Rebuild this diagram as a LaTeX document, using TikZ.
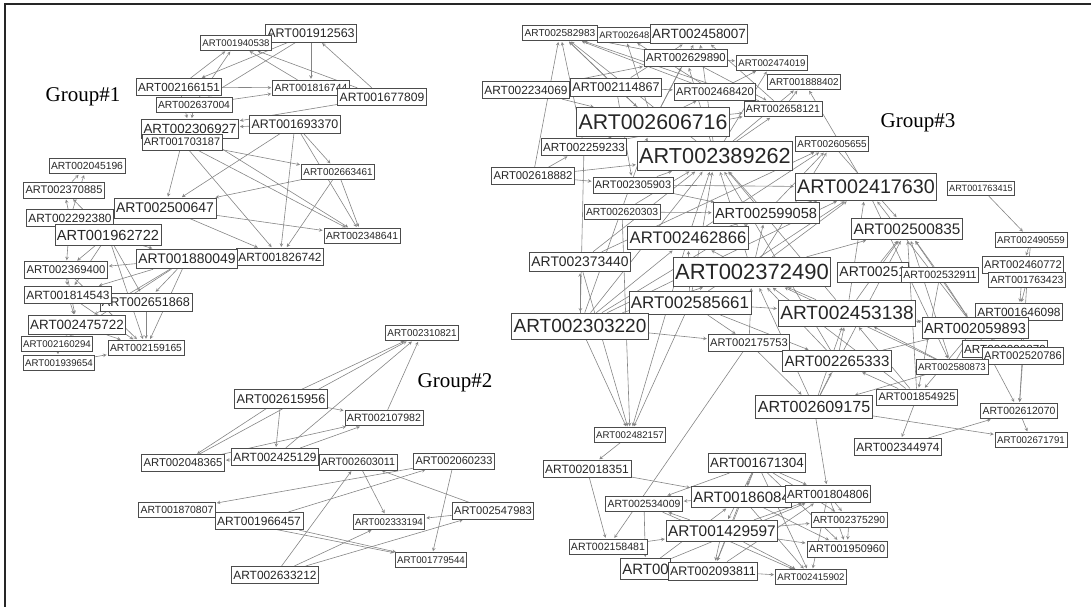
\documentclass[tikz,border=0pt]{standalone}
\usepackage{fontspec}
\newfontfamily\artfont{Liberation Sans}
\newfontfamily\grpfont{Liberation Serif}
\usetikzlibrary{arrows}
\pgfdeclarelayer{edges}
\pgfsetlayers{edges,main}
\tikzset{
  art/.style={draw=black!70, line width=0.8pt, fill=white, text=black!85,
    inner xsep=2pt, inner ysep=0pt, minimum height={1.2*#1pt+3pt},
    font=\artfont\fontsize{#1}{#1}\selectfont},
  link/.style={draw=black!48, line width=0.6pt, ->, >=stealth, shorten >=1pt},
  grp/.style={font=\grpfont\fontsize{21}{21}\selectfont}
}

\begin{document}
\begin{tikzpicture}[x=1pt,y=-1pt]
\useasboundingbox (0,0) rectangle (1091,607);
\draw[line width=1.5pt, black!85] (5,607) -- (5,4) -- (1091,4);

% group 1
\node[grp] (g1) at (83,97) {Group\#1};
\node[art=12.5] (n001912563) at (311,33) {ART001912563};
\node[art=9.6] (n001940538) at (236,43) {ART001940538};
\node[art=11.7] (n002166151) at (179,87) {ART002166151};
\node[art=10.4] (n001816744) at (311,88) {ART001816744};
\node[art=12.1] (n001677809) at (382,97) {ART001677809};
\node[art=10.3] (n002637004) at (194,105) {ART002637004};
\node[art=13.3] (n002306927) at (190,129) {ART002306927};
\node[art=10.9] (n001703187) at (182,142) {ART001703187};
\node[art=12.4] (n001693370) at (295,124) {ART001693370};
\node[art=9.9] (n002663461) at (338,172) {ART002663461};
\node[art=10.3] (n002045196) at (87,166) {ART002045196};
\node[art=11] (n002370885) at (64,190) {ART002370885};
\node[art=11.9] (n002292380) at (70,218) {ART002292380};
\node[art=14] (n002500647) at (165,208) {ART002500647};
\node[art=14.6] (n001962722) at (108,235) {ART001962722};
\node[art=10.3] (n002348641) at (362,236) {ART002348641};
\node[art=11.9] (n001826742) at (280,257) {ART001826742};
\node[art=13.9] (n001880049) at (187,259) {ART001880049};
\node[art=11.3] (n002369400) at (66,270) {ART002369400};
\node[art=12.6] (n002651868) at (146,302) {ART002651868};
\node[art=11.9] (n001814543) at (68,295) {ART001814543};
\node[art=13.4] (n002475722) at (77,325) {ART002475722};
\node[art=9.7] (n002160294) at (57,344) {ART002160294};
\node[art=10.3] (n002159165) at (146,348) {ART002159165};
\node[art=9.7] (n001939654) at (59,363) {ART001939654};

% group 2
\node[grp] (g2) at (455,383) {Group\#2};
\node[art=9.9] (n002310821) at (422,333) {ART002310821};
\node[art=12.7] (n002615956) at (281,399) {ART002615956};
\node[art=10.6] (n002107982) at (384,418) {ART002107982};
\node[art=11.3] (n002048365) at (183,463) {ART002048365};
\node[art=11.9] (n002425129) at (275,457) {ART002425129};
\node[art=10.7] (n002603011) at (358,462) {ART002603011};
\node[art=11] (n002060233) at (454,461) {ART002060233};
\node[art=10.4] (n001870807) at (177,510) {ART001870807};
\node[art=12] (n001966457) at (259,521) {ART001966457};
\node[art=9.7] (n002333194) at (389,522) {ART002333194};
\node[art=11.1] (n002547983) at (493,511) {ART002547983};
\node[art=9.7] (n001779544) at (431,560) {ART001779544};
\node[art=11.9] (n002633212) at (275,575) {ART002633212};

% group 3
\node[grp] (g3) at (918,123) {Group\#3};
\node[art=10.1] (n002582983) at (560,33) {ART002582983};
\node[art=9.4, anchor=west] (n002648) at (597,35) {ART002648};
\node[art=13.4] (n002458007) at (699,34) {ART002458007};
\node[art=11.4] (n002629890) at (686,58) {ART002629890};
\node[art=9.6] (n002474019) at (772,63) {ART002474019};
\node[art=9.9] (n001888402) at (804,82) {ART001888402};
\node[art=11.9] (n002234069) at (526,90) {ART002234069};
\node[art=12.6] (n002114867) at (616,87) {ART002114867};
\node[art=11.1] (n002468420) at (715,92) {ART002468420};
\node[art=10.6] (n002658121) at (783,109) {ART002658121};
\node[art=21.3] (n002606716) at (653,122) {ART002606716};
\node[art=11.7] (n002259233) at (584,147) {ART002259233};
\node[art=21.7] (n002389262) at (715,156) {ART002389262};
\node[art=9.9] (n002605655) at (832,144) {ART002605655};
\node[art=11.3] (n002618882) at (533,176) {ART002618882};
\node[art=10.9] (n002305903) at (633,185) {ART002305903};
\node[art=19.7] (n002417630) at (866,187) {ART002417630};
\node[art=9.1] (n001763415) at (981,188) {ART001763415};
\node[art=10.3] (n002620303) at (622,212) {ART002620303};
\node[art=14.6] (n002599058) at (766,213) {ART002599058};
\node[art=16.7] (n002462866) at (688,238) {ART002462866};
\node[art=15.3] (n002500835) at (907,229) {ART002500835};
\node[art=9.7] (n002490559) at (1031,240) {ART002490559};
\node[art=13.9] (n002373440) at (580,262) {ART002373440};
\node[art=22] (n002372490) at (752,272) {ART002372490};
\node[art=14, anchor=west] (n00251) at (837,272) {ART00251};
\node[art=10.6] (n002532911) at (940,275) {ART002532911};
\node[art=11.1] (n002460772) at (1023,265) {ART002460772};
\node[art=10.4] (n001763423) at (1027,280) {ART001763423};
\node[art=16.9] (n002585661) at (690,303) {ART002585661};
\node[art=19] (n002303220) at (580,326) {ART002303220};
\node[art=19.1] (n002453138) at (847,313) {ART002453138};
\node[art=11.9] (n001646098) at (1019,312) {ART001646098};
\node[art=14.6] (n002059893) at (975,328) {ART002059893};
\node[art=11.1] (n002175753) at (749,343) {ART002175753};
\node[art=11.7] (n002099879) at (1005,349) {ART002099879};
\node[art=11.1] (n002520786) at (1023,356) {ART002520786};
\node[art=15] (n002265333) at (837,361) {ART002265333};
\node[art=9.7] (n002580873) at (952,367) {ART002580873};
\node[art=11] (n001854925) at (917,397) {ART001854925};
\node[art=16.1] (n002609175) at (814,407) {ART002609175};
\node[art=10.4] (n002612070) at (1019,411) {ART002612070};
\node[art=9.7] (n002482157) at (630,435) {ART002482157};
\node[art=9.7] (n002671791) at (1031,440) {ART002671791};
\node[art=11.9] (n002344974) at (898,447) {ART002344974};
\node[art=12] (n002018351) at (587,469) {ART002018351};
\node[art=13.4] (n001671304) at (757,463) {ART001671304};
\node[art=10.4] (n002534009) at (644,504) {ART002534009};
\node[art=15, anchor=west] (n001860084) at (691,497) {ART00186084};
\node[art=11.7] (n001804806) at (828,494) {ART001804806};
\node[art=10.3] (n002375290) at (849,520) {ART002375290};
\node[art=15.4] (n001429597) at (722,531) {ART001429597};
\node[art=10.6] (n002158481) at (608,547) {ART002158481};
\node[art=10.9] (n001950960) at (847,549) {ART001950960};
\node[art=15, anchor=west] (n00) at (620,569) {ART00};
\node[art=12.4] (n002093811) at (713,571) {ART002093811};
\node[art=9.6] (n002415902) at (811,577) {ART002415902};

\begin{pgfonlayer}{edges}
% group 1
\foreach \a/\b in {002166151/001940538, 002637004/001940538, 001816744/001940538,
    001677809/001940538, 001912563/002166151, 001912563/002637004, 001912563/001816744,
    001677809/001912563, 002166151/001816744, 002637004/001816744, 001677809/002306927,
    002166151/002306927, 002637004/002306927, 001693370/002306927, 001703187/002663461,
    001703187/002348641, 001703187/001826742, 002306927/002348641, 001703187/002500647,
    001693370/002663461, 001693370/002348641, 001693370/001826742, 001693370/002500647,
    002663461/002500647, 002663461/001826742, 002663461/002348641, 002500647/001826742,
    002500647/002348641, 001962722/001880049, 001962722/002651868, 001962722/002159165,
    001962722/002369400, 001962722/001814543, 001880049/002369400, 001880049/001814543,
    001880049/002651868, 001880049/002475722, 001880049/002159165, 001880049/002160294,
    002370885/002045196, 002292380/002045196, 002292380/002370885, 001962722/002370885,
    002369400/001814543, 002369400/002475722, 001814543/002475722, 001814543/002159165,
    002475722/002160294, 002475722/002159165, 002160294/001939654, 001939654/002159165,
    002651868/002159165, 002369400/002159165, 002292380/002369400}
  \draw[link] (n\a) -- (n\b);
% group 2
\foreach \a/\b in {002615956/002310821, 002048365/002310821, 002425129/002310821,
    002107982/002310821, 002615956/002048365, 002615956/002425129, 002615956/002107982,
    002425129/002107982, 002048365/002107982, 002425129/002048365, 002060233/001870807,
    001966457/002060233, 002547983/002603011, 002603011/002333194, 002547983/002333194,
    002633212/002603011, 002633212/002333194, 002633212/002547983, 001966457/001779544,
    001870807/001779544, 002060233/001779544}
  \draw[link] (n\a) -- (n\b);
% group 3
\foreach \a/\b in {002114867/002582983, 002468420/002582983, 002629890/002582983,
    002606716/002582983, 002389262/002582983, 002658121/002582983, 002606716/002648,
    002468420/002648, 002114867/002458007, 002606716/002458007, 002389262/002458007,
    002658121/002458007, 002234069/002629890, 002606716/002629890, 002389262/002629890,
    002629890/002474019, 002468420/002474019, 002389262/002474019, 002389262/001888402,
    002417630/001888402, 002658121/001888402, 002629890/002658121, 002606716/002658121,
    002259233/002658121, 002389262/002658121, 002114867/002468420, 002606716/002468420,
    002234069/002606716, 002618882/002582983, 002259233/002582983, 002259233/002303220,
    002259233/002606716, 002618882/002259233, 002618882/002389262, 002305903/002389262,
    002305903/002417630, 002620303/002389262, 002620303/002599058, 002373440/002389262,
    002373440/002605655, 002303220/002389262, 002303220/002606716, 002303220/002417630,
    002303220/002599058, 002303220/002462866, 002303220/002372490, 002303220/002373440,
    002585661/002389262, 002585661/002417630, 002585661/002303220, 002585661/002462866,
    002462866/002389262, 002462866/002417630, 002462866/002605655, 002599058/002389262,
    002599058/002605655, 002599058/002417630, 002372490/002389262, 002372490/002417630,
    002372490/002605655, 002372490/002500835, 002372490/002599058, 002372490/002462866,
    002453138/002389262, 002453138/002417630, 002453138/002500835, 002453138/002372490,
    002265333/002372490, 002265333/002453138, 002265333/002389262, 002609175/002372490,
    002609175/002453138, 002609175/002265333, 002609175/002500835, 001854925/002453138,
    001854925/002500835, 001854925/002372490, 001854925/002265333, 002580873/002500835,
    002580873/002453138, 002580873/002059893, 002580873/002372490, 002059893/002500835,
    002059893/002417630, 002059893/002453138, 002532911/002500835, 002532911/002059893,
    00251/002500835, 002265333/002059893, 002175753/002372490, 002175753/002265333,
    002175753/002158481, 002175753/002609175, 002303220/002482157, 002585661/002482157,
    002373440/002482157, 002620303/002482157, 002462866/002482157, 002303220/002175753,
    002585661/002175753, 002585661/002265333, 002585661/002453138, 002482157/002018351,
    002018351/002158481, 002018351/001860084, 002609175/001804806, 001763415/002490559,
    002490559/002460772, 002490559/001763423, 002460772/001646098, 001763423/001646098,
    001763423/002612070, 001646098/002520786, 002520786/002612070, 002612070/002671791,
    002609175/002671791, 002344974/002612070, 001854925/002344974, 002059893/002612070,
    002580873/002609175, 002453138/002059893, 002605655/002500835, 002305903/002599058,
    002618882/002305903, 002114867/002305903, 002114867/002606716, 002099879/002059893,
    001646098/002099879, 002532911/001854925, 002059893/001854925, 002417630/002580873}
  \draw[link] (n\a) -- (n\b);
% lower part of group 3
\foreach \a/\b in {001671304/002534009, 001671304/001860084, 001671304/001804806,
    001671304/001429597, 001671304/002093811, 001671304/002415902, 001671304/001950960,
    001671304/002375290, 001860084/002534009, 001860084/001804806, 001860084/002093811,
    001860084/002415902, 001860084/001950960, 001429597/002534009, 001429597/001804806,
    001429597/002375290, 001429597/002093811, 001429597/002415902, 001429597/001950960,
    002158481/001429597, 002534009/00, 002093811/002415902, 001804806/001950960,
    001804806/002375290, 001804806/002415902, 002375290/001950960, 00/001860084,
    00/001804806, 002093811/001804806, 002534009/002415902}
  \draw[link] (n\a) -- (n\b);
\end{pgfonlayer}
\end{tikzpicture}
\end{document}
